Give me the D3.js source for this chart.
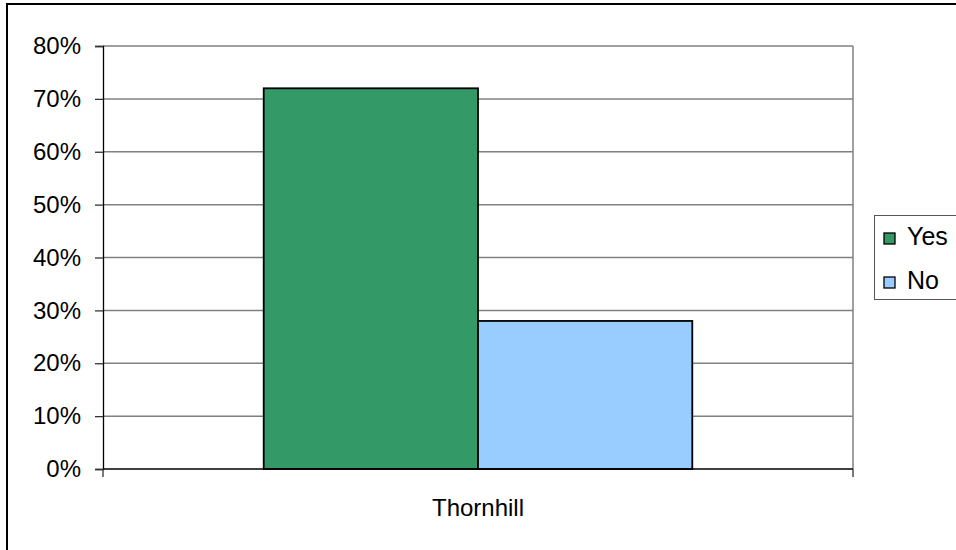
<!DOCTYPE html>
<html>
<head>
<meta charset="utf-8">
<script src="https://cdn.jsdelivr.net/npm/d3@7"></script>
<style>
  html, body { margin: 0; padding: 0; background: #fff; }
  svg { display: block; }
  text { font-family: Arial, "Liberation Sans", sans-serif; fill: #000; }
</style>
</head>
<body>
<svg id="chart" width="956" height="550"></svg>
<script>
// Survey response share by location
const categories = ["Thornhill"];
const seriesNames = ["Yes", "No"];
const yesValues = [0.72];
const noValues = [0.28];
const yTicks = [0, 0.1, 0.2, 0.3, 0.4, 0.5, 0.6, 0.7, 0.8];
const seriesColors = ["#339966", "#99CCFF"];

const seriesValues = [yesValues, noValues];

const svg = d3.select("#chart");
const plot = { left: 103, right: 853, top: 46, bottom: 469 };

// Outer chart frame
svg.append("rect")
  .attr("x", 7).attr("y", 4)
  .attr("width", 1000).attr("height", 600)
  .attr("fill", "#fff")
  .attr("stroke", "#000").attr("stroke-width", 2);

const x = d3.scaleBand()
  .domain(categories)
  .range([plot.left, plot.right])
  .paddingInner(0).paddingOuter(0);

const xInner = d3.scaleBand()
  .domain(seriesNames)
  .range([0, x.bandwidth()])
  .paddingInner(0).paddingOuter(0.75);

const y = d3.scaleLinear()
  .domain([0, 0.8])
  .range([plot.bottom, plot.top]);

// Horizontal gridlines
svg.append("g")
  .selectAll("line")
  .data(yTicks.filter(d => d > 0))
  .join("line")
  .attr("x1", plot.left).attr("x2", plot.right)
  .attr("y1", d => y(d)).attr("y2", d => y(d))
  .attr("stroke", "#808080").attr("stroke-width", 1.5);

// Right plot-area edge
svg.append("line")
  .attr("x1", plot.right).attr("x2", plot.right)
  .attr("y1", plot.top).attr("y2", plot.bottom)
  .attr("stroke", "#808080").attr("stroke-width", 1.5);

// Bars
const rows = [];
categories.forEach((c, i) => {
  seriesNames.forEach((s, j) => {
    rows.push({ category: c, series: s, value: seriesValues[j][i], color: seriesColors[j] });
  });
});

svg.append("g")
  .selectAll("rect")
  .data(rows)
  .join("rect")
  .attr("x", d => x(d.category) + xInner(d.series))
  .attr("y", d => y(d.value))
  .attr("width", xInner.bandwidth())
  .attr("height", d => y(0) - y(d.value))
  .attr("fill", d => d.color)
  .attr("stroke", "#000").attr("stroke-width", 1.8);

// Y axis
const yAxis = d3.axisLeft(y)
  .tickValues(yTicks)
  .tickFormat(d3.format(".0%"))
  .tickSize(8)
  .tickPadding(14);

const yg = svg.append("g")
  .attr("transform", `translate(${plot.left},0)`)
  .call(yAxis);
yg.select(".domain").attr("stroke", "#000").attr("stroke-width", 1.3);
yg.selectAll(".tick line").attr("stroke", "#333").attr("stroke-width", 1.3);
yg.selectAll(".tick text")
  .style("font-family", "Arial, 'Liberation Sans', sans-serif")
  .style("font-size", "24px")
  .attr("fill", "#000");

// X axis
const xAxis = d3.axisBottom(x).tickSize(0).tickPadding(30);
const xg = svg.append("g")
  .attr("transform", `translate(0,${plot.bottom})`)
  .call(xAxis);
xg.select(".domain").remove();
xg.selectAll(".tick text")
  .style("font-family", "Arial, 'Liberation Sans', sans-serif")
  .style("font-size", "24px")
  .attr("fill", "#000");

// Baseline with boundary tick marks
svg.append("line")
  .attr("x1", plot.left).attr("x2", plot.right)
  .attr("y1", plot.bottom).attr("y2", plot.bottom)
  .attr("stroke", "#000").attr("stroke-width", 1.3);
svg.append("g")
  .selectAll("line")
  .data(x.range())
  .join("line")
  .attr("x1", d => d).attr("x2", d => d)
  .attr("y1", plot.bottom).attr("y2", plot.bottom + 8)
  .attr("stroke", "#333").attr("stroke-width", 1.3);

// Legend
const legend = svg.append("g");
legend.append("rect")
  .attr("x", 874.5).attr("y", 215.5)
  .attr("width", 200).attr("height", 84)
  .attr("fill", "#fff")
  .attr("stroke", "#555").attr("stroke-width", 1);

const items = legend.selectAll("g.item")
  .data(seriesNames.map((s, i) => ({ name: s, color: seriesColors[i] })))
  .join("g")
  .attr("class", "item")
  .attr("transform", (d, i) => `translate(884,${233 + i * 44})`);
items.append("rect")
  .attr("width", 11).attr("height", 11)
  .attr("fill", d => d.color)
  .attr("stroke", "#000").attr("stroke-width", 1.3);
items.append("text")
  .attr("x", 23).attr("y", 12)
  .style("font-size", "25px")
  .text(d => d.name);
</script>
</body>
</html>
